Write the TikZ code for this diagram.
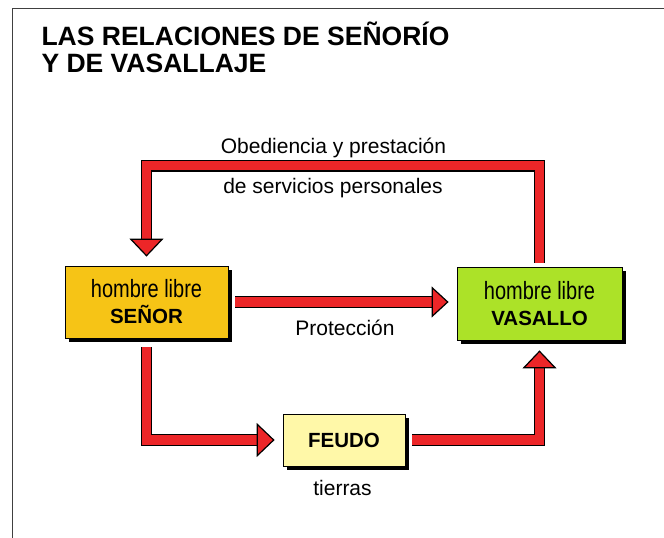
\documentclass[tikz,border=0pt]{standalone}
\usepackage{fontspec}
\setmainfont{Liberation Sans}
\newfontfamily\narrowfont[FakeStretch=0.8]{Liberation Sans}
\usetikzlibrary{arrows.meta,shadows}
\definecolor{senorfill}{RGB}{246,196,22}
\definecolor{vasallofill}{RGB}{172,226,40}
\definecolor{feudofill}{RGB}{255,248,168}
\definecolor{arrowred}{RGB}{236,38,40}
\newcommand{\hlibre}{{\narrowfont\mdseries\fontsize{25}{26}\selectfont hombre libre}}

\begin{document}
\begin{tikzpicture}[x=1pt, y=-1pt,
  box/.style={draw=black, line width=0.8pt, align=center, inner sep=0pt,
    font=\fontsize{20.5}{26}\selectfont\bfseries,
    drop shadow={shadow xshift=3.5pt, shadow yshift=-3.5pt, fill=black, opacity=1}},
  fat/.style={draw=black, line width=1.2pt, double=arrowred, double distance=9.5pt,
    -{Triangle[width=34pt, length=18pt, line width=1.2pt, fill=arrowred, color=black]}},
  lbl/.style={anchor=base, font=\fontsize{21}{25}\selectfont}]
  \useasboundingbox (0,0) rectangle (664,538);
  \draw[line width=1pt, black!75] (12,538) -- (12,8) -- (664,8);
  \node[anchor=base west, font=\fontsize{26.5}{27}\selectfont\bfseries] (title1) at (38,45) {LAS RELACIONES DE SEÑORÍO};
  \node[anchor=base west, font=\fontsize{26.5}{27}\selectfont\bfseries] (title2) at (38,72) {Y DE VASALLAJE};

  \node[box, fill=senorfill, minimum width=163pt, minimum height=72pt] (senor) at (146.5,302) {\hlibre\\SEÑOR};
  \node[box, fill=vasallofill, minimum width=165pt, minimum height=73pt] (vasallo) at (539.5,303.5) {\hlibre\\VASALLO};
  \node[box, fill=feudofill, minimum width=122pt, minimum height=52pt] (feudo) at (344,440) {FEUDO};

  \draw[fat] ([yshift=4pt]vasallo.north) -- ++(0,-97) -| ([yshift=9pt]senor.north);
  \draw[fat, -{Triangle[width=31pt, length=17pt, line width=1.2pt, fill=arrowred, color=black]}]
    ([xshift=7pt]senor.east) -- ([xshift=-8pt]senor.east -| vasallo.west);
  \draw[fat] ([yshift=-9pt]senor.south) |- ([xshift=-8pt]feudo.west);
  \draw[fat] ([xshift=7pt]feudo.east) -| ([yshift=-10pt]vasallo.south);

  \node[lbl] (obediencia) at (333.5,153) {Obediencia y prestación};
  \node[lbl] (servicios) at (333,193) {de servicios personales};
  \node[lbl] (proteccion) at (345,335) {Protección};
  \node[lbl] (tierras) at (342.5,495) {tierras};
\end{tikzpicture}
\end{document}
